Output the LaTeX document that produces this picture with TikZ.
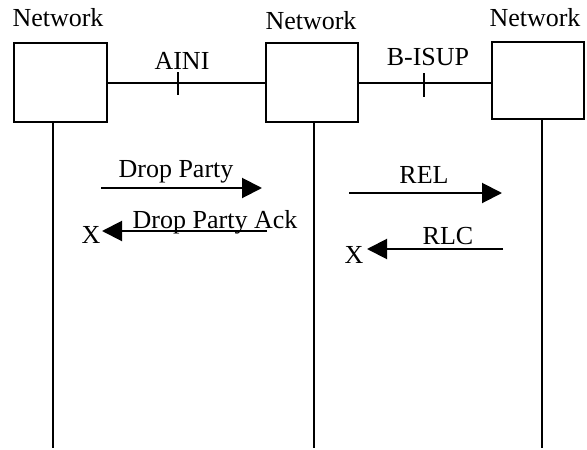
\documentclass[tikz,border=0pt]{standalone}
\usepackage{fontspec}
\setmainfont{Liberation Serif}
\usetikzlibrary{arrows.meta}
\begin{document}
\begin{tikzpicture}[x=1pt,y=-1pt,
  every node/.style={font=\fontsize{26}{30}\selectfont},
  lbl/.style={anchor=base, inner sep=0pt},
  box/.style={draw, line width=2pt, inner sep=0pt},
  ln/.style={line width=2pt},
  msg/.style={line width=2pt, -{Triangle[length=20pt,width=20pt]}}]
\useasboundingbox (0,0) rectangle (587,450);
% boxes
\node[box, minimum width=93pt, minimum height=79pt] (b1) at (60.5,82.5) {};
\node[box, minimum width=92pt, minimum height=79pt] (b2) at (312,82.5) {};
\node[box, minimum width=92pt, minimum height=77pt] (b3) at (538,80.5) {};
% titles
\node[lbl] (t1) at (58,26) {Network};
\node[lbl] (t2) at (311,29) {Network};
\node[lbl] (t3) at (535,26) {Network};
% links
\draw[ln] (b1.east) -- (b2.west);
\draw[ln] (b2.east) -- (b2.east -| b3.west);
\coordinate (k1a) at (178,72); \coordinate (k1b) at (178,95);
\coordinate (k2a) at (424,73); \coordinate (k2b) at (424,97);
\draw[ln] (k1a) -- (k1b);
\draw[ln] (k2a) -- (k2b);
\node[lbl] (aini) at (182,69) {AINI};
\node[lbl] (bisup) at (428,65) {B-ISUP};
% lifelines
\coordinate (l1) at (53,448);
\coordinate (l2) at (314,448);
\coordinate (l3) at (542,448);
\draw[ln] (b1.south -| l1) -- (l1);
\draw[ln] (b2.south -| l2) -- (l2);
\draw[ln] (b3.south -| l3) -- (l3);
% messages
\coordinate (m1s) at (101,188); \coordinate (m1e) at (262,188);
\draw[msg] (m1s) -- (m1e);
\node[lbl] (dp) at (176,177) {Drop Party};
\coordinate (m2s) at (267,231); \coordinate (m2e) at (102,231);
\draw[msg] (m2s) -- (m2e);
\node[lbl] (dpa) at (215,228) {Drop Party Ack};
\node[lbl] (x1) at (91,243) {X};
\coordinate (m3s) at (349,193); \coordinate (m3e) at (502,193);
\draw[msg] (m3s) -- (m3e);
\node[lbl] (rel) at (424,183) {REL};
\coordinate (m4s) at (503,249); \coordinate (m4e) at (367,249);
\draw[msg] (m4s) -- (m4e);
\node[lbl] (rlc) at (448,244) {RLC};
\node[lbl] (x2) at (354,263) {X};
\end{tikzpicture}
\end{document}
